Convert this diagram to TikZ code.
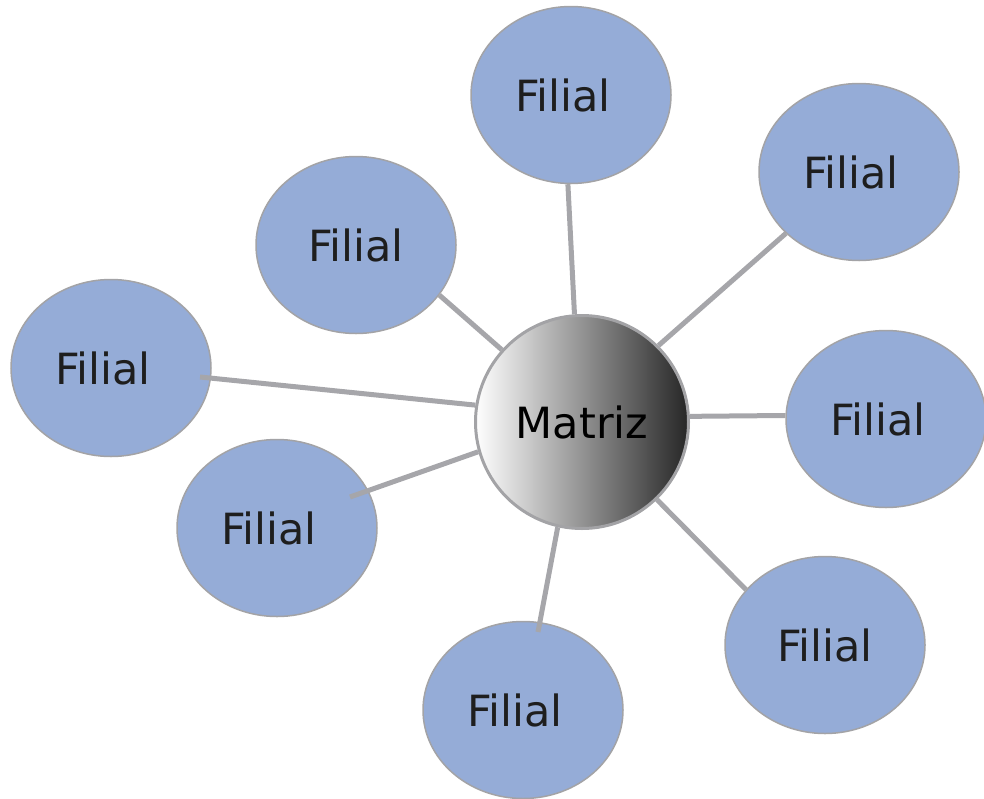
\documentclass[tikz,border=0pt]{standalone}
\usepackage{fontspec}
\setmainfont{DejaVu Sans}
\usetikzlibrary{shapes.geometric}
\definecolor{filblue}{HTML}{95ACD7}
\definecolor{filedge}{HTML}{A3A3A6}
\definecolor{linkgray}{HTML}{A6A6AA}
\definecolor{txt}{HTML}{1E1E1E}
\tikzset{
  filial/.style={ellipse, draw=filedge, line width=1.5pt, fill=filblue,
    minimum width=200pt, minimum height=177pt, inner sep=0pt,
    text=txt, font=\fontsize{43}{50}\selectfont},
  matriz/.style={circle, draw=filedge, line width=3pt, minimum size=213pt, inner sep=0pt,
    left color=white, middle color=black!40, right color=black!85, shading angle=90,
    font=\fontsize{43}{50}\selectfont, text=black},
  link/.style={draw=linkgray, line width=5pt}
}
\newcommand{\fil}{Filial\hspace*{16pt}}
\begin{document}
\begin{tikzpicture}[x=1pt,y=-1pt]
\useasboundingbox (0,0) rectangle (984,798);
\clip (0,0) rectangle (984,798);
\node[filial] (f1) at (571,95) {\fil};
\node[filial] (f2) at (859,172) {\fil};
\node[filial] (f3) at (886,419) {\fil};
\node[filial] (f4) at (825,645) {Filial};
\node[filial] (f5) at (523,710) {\fil};
\node[filial] (f6) at (277,528) {\fil};
\node[filial] (f7) at (111,368) {\fil};
\node[filial] (f8) at (356,245) {Filial};
\coordinate (e5) at (538,632);
\coordinate (e6) at (350,497);
\coordinate (e7) at (200,377);
\node[matriz] (m) at (582,422) {Matriz};
\draw[link] (m.94) -- (f1.268);
\draw[link] (m.45) -- (f2.220);
\draw[link] (m.3) -- (f3.178);
\draw[link] (m.-46) -- (f4.145);
\draw[link] (m.257) -- (e5);
\draw[link] (m.196) -- (e6);
\draw[link] (m.171) -- (e7);
\draw[link] (m.138) -- (f8.-31);
\end{tikzpicture}
\end{document}
